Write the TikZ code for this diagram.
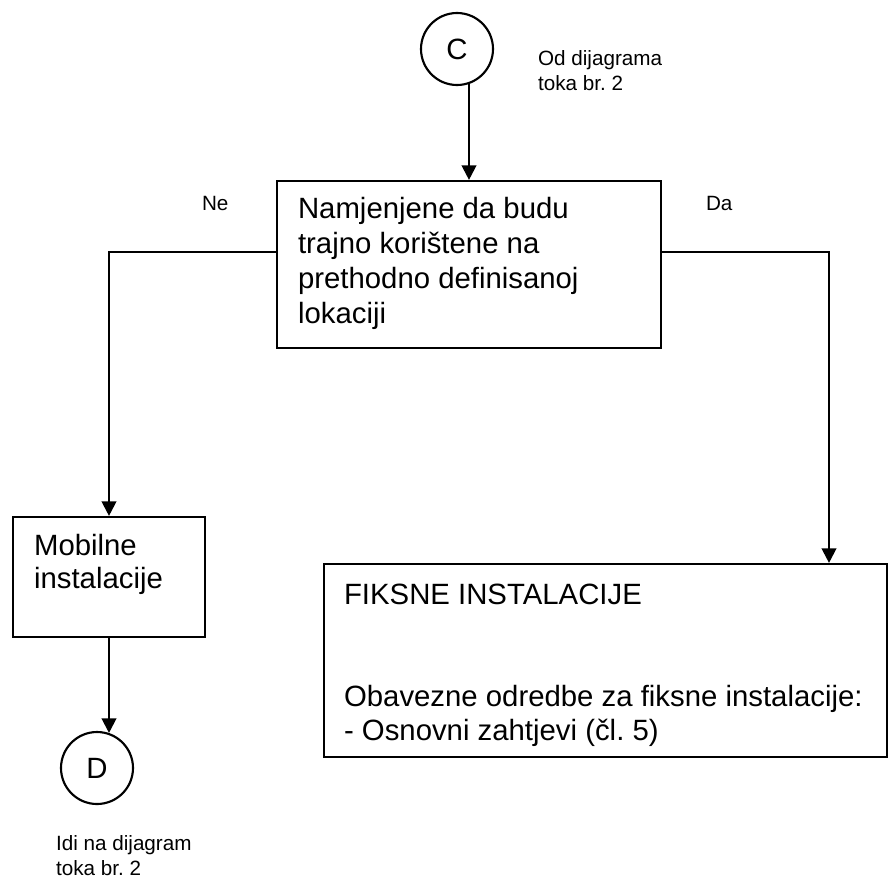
\documentclass[tikz,border=0pt]{standalone}
\usepackage{fontspec}
\setmainfont{Liberation Sans}
\usetikzlibrary{arrows.meta}
\frenchspacing
\begin{document}
\begin{tikzpicture}[x=0.75pt,y=-0.75pt,line width=1.6pt,>={Triangle[length=11pt,width=11pt]}]
    \tikzstyle{box}=[rectangle,draw=black,inner sep=0pt]
    \tikzstyle{conn}=[circle,draw=black,fill=white,inner sep=0pt,minimum size=54pt,font=\fontsize{22}{26}\selectfont]
    \tikzstyle{big}=[inner sep=0pt,anchor=base west,font=\fontsize{22}{26}\selectfont]
    \tikzstyle{small}=[inner sep=0pt,anchor=base west,font=\fontsize{15.5}{18}\selectfont]
    \useasboundingbox (0,0) rectangle (889,886);

    \node[conn] (C) at (457,49) {C};
    \node[box,minimum width=288pt,minimum height=125.25pt] (main) at (469,264.5) {};
    \node[box,minimum width=144pt,minimum height=90pt] (mob) at (109,577) {};
    \node[box,minimum width=422.25pt,minimum height=144.75pt] (fix) at (605.5,660.5) {};
    \node[conn] (D) at (97,768) {D};

    \foreach \i/\y/\t in {1/218/Namjenjene da budu, 2/253/trajno korištene na, 3/288/prethodno definisanoj, 4/323/lokaciji}
        \node[big] (main-\i) at (297,\y) {\t};
    \foreach \i/\y/\t in {1/555/Mobilne, 2/588/instalacije}
        \node[big] (mob-\i) at (33,\y) {\t};
    \foreach \i/\y/\t in {1/604/FIKSNE INSTALACIJE, 2/706/Obavezne odredbe za fiksne instalacije:, 3/740/- Osnovni zahtjevi (čl. 5)}
        \node[big] (fix-\i) at (343,\y) {\t};

    \foreach \i/\y/\t in {1/65/Od dijagrama, 2/90/toka br. 2}
        \node[small] (from-\i) at (537,\y) {\t};
    \foreach \i/\y/\t in {1/850/Idi na dijagram, 2/875/toka br. 2}
        \node[small] (goto-\i) at (55,\y) {\t};
    \node[small] (no) at (201,210) {Ne};
    \node[small] (yes) at (705,210) {Da};

    \coordinate (ne) at (109,252);
    \coordinate (da) at (829,252);
    \draw[->] (main.north |- C.-71) -- (main.north);
    \draw[->] (main.west |- ne) -- (ne) -- (mob.north);
    \draw[->] (main.east |- da) -- (da) -- (fix.north -| da);
    \draw[->] (mob.south) -- (mob.south |- D.71);
\end{tikzpicture}
\end{document}
